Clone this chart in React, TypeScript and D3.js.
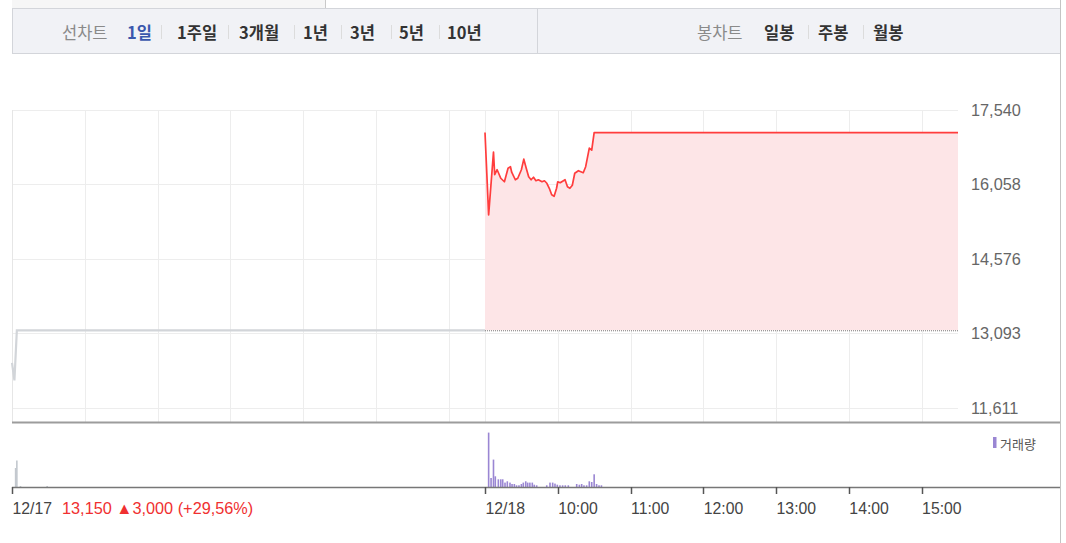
import React from "react";
import * as d3 from "d3";

// ---- data ----
const yTicks = [11611, 13093, 14576, 16058, 17540];
const prevClose = 13150;
const day1Minutes = [0, 2, 4, 390];
const day1Prices = [12500, 12150, 13150, 13150];
const day2Minutes = [0, 3, 7, 8, 10, 13, 16, 19, 21, 22, 25, 27, 30, 32, 34, 36, 38, 40, 42, 44, 47, 49, 51, 53, 55, 57, 59, 60, 62, 64, 66, 68, 70, 72, 74, 77, 79, 81, 83, 86, 88, 90, 390];
const day2Prices = [17090, 15450, 16700, 16250, 16350, 16180, 16110, 16380, 16410, 16300, 16150, 16180, 16350, 16560, 16380, 16210, 16150, 16200, 16130, 16150, 16110, 16130, 16080, 15980, 15850, 15820, 15980, 16110, 16090, 16120, 16150, 16010, 15980, 16040, 16280, 16330, 16310, 16290, 16410, 16780, 16740, 17090, 17090];
const day1VolMinutes = [3, 4, 7, 29];
const day1Vols = [190, 265, 10, 10];
const day2VolMinutes = [3, 5, 7, 8.5, 11, 13, 14.6, 16.5, 18.4, 20.6, 22.3, 24.2, 26, 28, 30, 31.6, 33.6, 35.2, 37, 39, 40.6, 42.6, 50.9, 53.6, 55.8, 57.7, 59.6, 61.8, 64, 66.2, 68.7, 75.6, 77.8, 79.7, 81.6, 83.8, 86, 88, 90, 92, 94, 96];
const day2Vols = [544, 90, 274, 107, 77, 77, 77, 44, 57, 44, 30, 30, 17, 17, 30, 44, 57, 44, 44, 44, 23, 17, 17, 44, 44, 34, 23, 17, 17, 17, 17, 30, 23, 30, 17, 17, 57, 50, 127, 30, 17, 17];
const xTickMinutes = [0, 390, 450, 510, 570, 630, 690, 750];
const xTickLabels = ["12/17", "12/18", "10:00", "11:00", "12:00", "13:00", "14:00", "15:00"];
const gridMinutes = [60, 120, 180, 240, 300, 360, 390, 450, 510, 570, 630, 690, 750];
const changeLabel = "13,150 ▲3,000 (+29,56%)";
const lineTabs = ["1일", "1주일", "3개월", "1년", "3년", "5년", "10년"];
const candleTabs = ["일봉", "주봉", "월봉"];
const volumeLegend = "거래량";

// ---- layout ----
const W = 1066, H = 543;
const X0 = 12, X1 = 958;
const lineTabX = [127, 177, 239, 303, 350, 399, 447];
const lineSepX = [161, 228, 294, 341, 391, 439];
const candleTabX = [764, 818, 873];
const candleSepX = [808, 863];

export default function App() {
  const x = d3.scaleLinear().domain([0, 780]).range([X0, X1]);
  const y = d3.scaleLinear().domain([11611, 17540]).range([407.5, 110]);
  const yv = d3.scaleLinear().domain([0, 650]).range([487, 422]);

  const d1 = day1Minutes.map((m, i) => [m, day1Prices[i]] as [number, number]);
  const d2 = day2Minutes.map((m, i) => [390 + m, day2Prices[i]] as [number, number]);
  const line = d3.line<[number, number]>().x(d => x(d[0])).y(d => y(d[1]));
  const area = d3.area<[number, number]>().x(d => x(d[0])).y0(y(prevClose)).y1(d => y(d[1]));

  const numFont = "'Liberation Sans', Arial, sans-serif";
  const krFont = "'Noto Sans CJK KR', sans-serif";

  return (
    <svg width={W} height={H} style={{ position: "absolute", left: 0, top: 0, background: "#fff" }}>
      {/* top strip */}
      <rect x={12} y={0} width={313} height={8} fill="#f6f6f6" />
      <line x1={325.5} x2={325.5} y1={0} y2={8} stroke="#c9c9c9" />
      {/* header */}
      <rect x={12.5} y={8.5} width={1048} height={45} fill="#f1f2f6" stroke="#d3d5da" />
      <line x1={537.5} x2={537.5} y1={9} y2={53} stroke="#d3d5da" />
      <text x={62} y={32} dominantBaseline="central" fontFamily={krFont} fontSize={16.5} fill="#8a8a8a">선차트</text>
      {lineTabs.map((t, i) => (
        <text key={t} x={lineTabX[i]} y={32} dominantBaseline="central" fontFamily={krFont} fontSize={16.5} fontWeight="bold" fill={i === 0 ? "#3a58ad" : "#333"}>{t}</text>
      ))}
      {lineSepX.map(sx => <line key={sx} x1={sx + 0.5} x2={sx + 0.5} y1={25} y2={39} stroke="#dcdcdc" />)}
      <text x={697} y={32} dominantBaseline="central" fontFamily={krFont} fontSize={16.5} fill="#8a8a8a">봉차트</text>
      {candleTabs.map((t, i) => (
        <text key={t} x={candleTabX[i]} y={32} dominantBaseline="central" fontFamily={krFont} fontSize={16.5} fontWeight="bold" fill="#333">{t}</text>
      ))}
      {candleSepX.map(sx => <line key={sx} x1={sx + 0.5} x2={sx + 0.5} y1={25} y2={39} stroke="#dcdcdc" />)}

      {/* right border */}
      <line x1={1060.5} x2={1060.5} y1={0} y2={H} stroke="#c4c4c4" />

      {/* grid */}
      {yTicks.map(t => (
        <line key={t} x1={X0} x2={X1} y1={Math.round(y(t)) + 0.5} y2={Math.round(y(t)) + 0.5} stroke="#ededed" />
      ))}
      {gridMinutes.map(m => (
        <line key={m} x1={Math.round(x(m)) + 0.5} x2={Math.round(x(m)) + 0.5} y1={110} y2={422} stroke="#ededed" />
      ))}
      <line x1={X0 + 0.5} x2={X0 + 0.5} y1={110} y2={422} stroke="#e6e6e6" />

      {/* area + lines */}
      <path d={area(d2) || ""} fill="#fde5e7" />
      <line x1={x(390)} x2={X1} y1={y(prevClose) + 0.5} y2={y(prevClose) + 0.5} stroke="#777" strokeDasharray="1,1" />
      <path d={line(d1) || ""} fill="none" stroke="#d2d5d9" strokeWidth={2.2} />
      <path d={line(d2) || ""} fill="none" stroke="#ff3d3d" strokeWidth={1.7} strokeLinejoin="round" />

      {/* y labels */}
      {yTicks.map(t => (
        <text key={t} x={971} y={y(t)} dominantBaseline="central" fontFamily={numFont} fontSize={16.3} fill="#666">{d3.format(",")(t)}</text>
      ))}

      {/* separator */}
      <line x1={X0} x2={1060} y1={422.5} y2={422.5} stroke="#9c9c9c" strokeWidth={2} />

      {/* volume */}
      {day1VolMinutes.map((m, i) => (
        <rect key={"a" + i} x={x(m) - 0.8} y={yv(day1Vols[i])} width={1.6} height={yv(0) - yv(day1Vols[i])} fill="#c3c8ce" />
      ))}
      {day2VolMinutes.map((m, i) => (
        <rect key={"b" + i} x={x(390 + m) - 0.8} y={yv(day2Vols[i])} width={1.6} height={yv(0) - yv(day2Vols[i])} fill="#9a86d3" />
      ))}
      <rect x={993} y={437} width={3.5} height={11} fill="#9a86d3" />
      <text x={1000} y={443} dominantBaseline="central" fontFamily={krFont} fontSize={13} fill="#555">{volumeLegend}</text>

      {/* x axis */}
      <line x1={X0} x2={1060} y1={487.5} y2={487.5} stroke="#777" strokeWidth={1.5} />
      {xTickMinutes.map((m, i) => (
        <g key={m}>
          <line x1={Math.round(x(m)) + 0.5} x2={Math.round(x(m)) + 0.5} y1={487} y2={494} stroke="#555" strokeWidth={1.5} />
          <text x={x(m) + 0.5} y={508} dominantBaseline="central" fontFamily={numFont} fontSize={15.8} fill="#444">{xTickLabels[i]}</text>
        </g>
      ))}
      <text x={62} y={508} dominantBaseline="central" fontFamily={numFont} fontSize={16.3} fill="#f03030">{changeLabel}</text>
    </svg>
  );
}
